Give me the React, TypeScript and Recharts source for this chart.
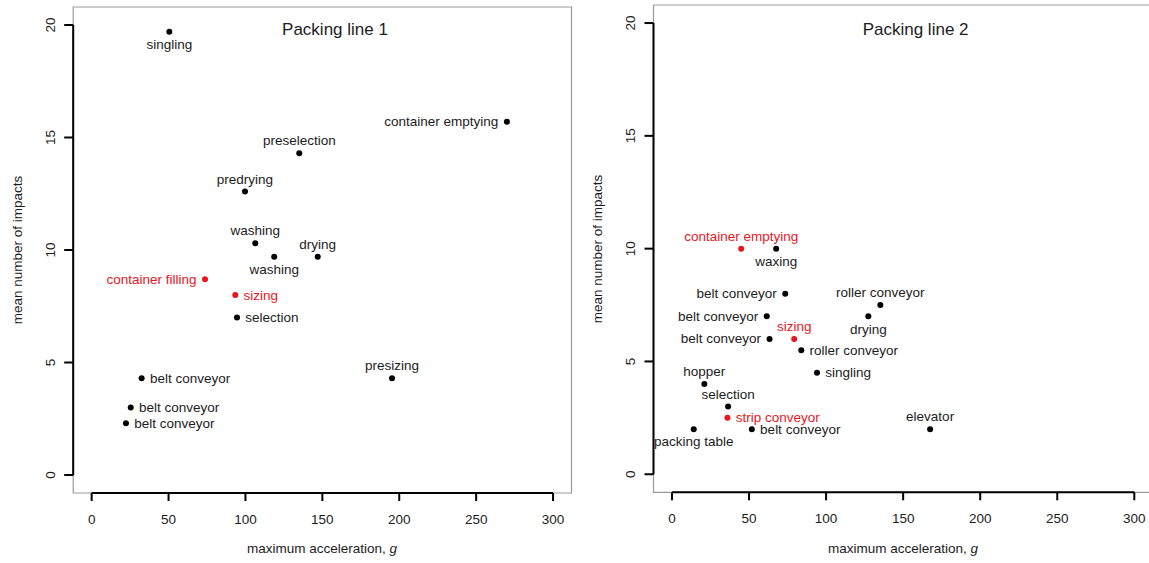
import React from 'react';
import {
  ScatterChart,
  Scatter,
  XAxis,
  YAxis,
  ReferenceLine,
  ReferenceArea,
} from 'recharts';

// Packing line 1
const line1Names = [
  'singling', 'container emptying', 'preselection', 'predrying', 'washing', 'washing', 'drying',
  'container filling', 'sizing', 'selection', 'presizing', 'belt conveyor', 'belt conveyor', 'belt conveyor',
];
const line1Accel = [50.5, 270, 135, 99.7, 106.4, 118.7, 147, 73.7, 93.4, 94.5, 195.3, 32.5, 25.4, 22.3];
const line1Impacts = [19.7, 15.7, 14.3, 12.6, 10.3, 9.7, 9.7, 8.7, 8.0, 7.0, 4.3, 4.3, 3.0, 2.3];
const line1Red = ['container filling', 'sizing'];
const line1Side = ['below', 'left', 'above', 'above', 'above', 'below', 'above', 'left', 'right', 'right', 'above', 'right', 'right', 'right'];

// Packing line 2
const line2Names = [
  'container emptying', 'waxing', 'belt conveyor', 'roller conveyor', 'belt conveyor', 'drying', 'belt conveyor',
  'sizing', 'roller conveyor', 'singling', 'hopper', 'selection', 'strip conveyor', 'packing table', 'belt conveyor', 'elevator',
];
const line2Accel = [44.9, 67.6, 73.5, 135.2, 61.5, 127.4, 63.3, 79.3, 83.9, 94.1, 21, 36.4, 36, 14.1, 51.8, 167.5];
const line2Impacts = [10, 10, 8, 7.5, 7, 7, 6, 6, 5.5, 4.5, 4, 3, 2.5, 2, 2, 2];
const line2Red = ['container emptying', 'sizing', 'strip conveyor'];
const line2Side = ['above', 'below', 'left', 'above', 'left', 'below', 'left', 'above', 'right', 'right', 'above', 'above', 'right', 'below', 'right', 'above'];

const xTicks = [0, 50, 100, 150, 200, 250, 300];
const yTicks = [0, 5, 10, 15, 20];

const FONT = "'Liberation Sans', Arial, sans-serif";
const RED = '#e8161e';
const INK = '#1c1c1c';

function buildRows(names: string[], xs: number[], ys: number[], red: string[], sides: string[]) {
  return names.map((name, i) => ({
    name,
    x: xs[i],
    y: ys[i],
    red: red.includes(name),
    side: sides[i],
  }));
}

function LabelledDot(props: any) {
  const { cx, cy, payload } = props;
  const color = payload.red ? RED : INK;
  let tx = cx;
  let ty = cy;
  let anchor: 'start' | 'middle' | 'end' = 'middle';
  if (payload.side === 'above') ty = cy - 12.3;
  if (payload.side === 'below') ty = cy + 12.7;
  if (payload.side === 'left') {
    tx = cx - 8.5;
    anchor = 'end';
  }
  if (payload.side === 'right') {
    tx = cx + 8.3;
    anchor = 'start';
  }
  return (
    <g>
      <circle cx={cx} cy={cy} r={3} fill={payload.red ? RED : '#000'} />
      <text
        x={tx}
        y={ty}
        textAnchor={anchor}
        dominantBaseline="central"
        fontSize={13.5}
        fontFamily={FONT}
        fill={color}
      >
        {payload.name}
      </text>
    </g>
  );
}

function YTick(props: any) {
  const { x, y, payload } = props;
  return (
    <text
      x={x}
      y={y}
      transform={`rotate(-90 ${x} ${y})`}
      textAnchor="middle"
      fontSize={13.5}
      fontFamily={FONT}
      fill={INK}
    >
      {payload.value}
    </text>
  );
}

function Panel({ rows, width, margin }: { rows: any[]; width: number; margin: any }) {
  return (
    <ScatterChart width={width} height={563} margin={margin}>
      <XAxis
        type="number"
        dataKey="x"
        domain={[-12, 312]}
        ticks={xTicks}
        axisLine={false}
        tickLine={{ stroke: '#000', strokeWidth: 2 }}
        tickSize={8}
        tickMargin={13.5}
        height={60}
        tick={{ fontSize: 13.5, fontFamily: FONT, fill: INK }}
        allowDataOverflow
      />
      <YAxis
        type="number"
        dataKey="y"
        domain={[-0.8, 20.8]}
        ticks={yTicks}
        axisLine={false}
        tickLine={{ stroke: '#000', strokeWidth: 2 }}
        tickSize={9}
        tickMargin={9.2}
        width={60}
        tick={<YTick />}
        allowDataOverflow
      />
      <ReferenceArea
        x1={-12}
        x2={312}
        y1={-0.8}
        y2={20.8}
        fill="none"
        stroke="#9a9a9a"
        strokeWidth={1.2}
        ifOverflow="visible"
      />
      <ReferenceLine
        segment={[{ x: 0, y: -0.8 }, { x: 300, y: -0.8 }]}
        stroke="#000"
        strokeWidth={2}
        ifOverflow="visible"
      />
      <ReferenceLine
        segment={[{ x: -12, y: 0 }, { x: -12, y: 20 }]}
        stroke="#000"
        strokeWidth={2}
        ifOverflow="visible"
      />
      <Scatter data={rows} shape={<LabelledDot />} isAnimationActive={false} />
    </ScatterChart>
  );
}

export default function App() {
  const rows1 = buildRows(line1Names, line1Accel, line1Impacts, line1Red, line1Side);
  const rows2 = buildRows(line2Names, line2Accel, line2Impacts, line2Red, line2Side);

  return (
    <div
      style={{
        position: 'absolute',
        left: 0,
        top: 0,
        width: 1149,
        height: 563,
        overflow: 'hidden',
        background: '#fff',
      }}
    >
      <div style={{ position: 'absolute', left: 0, top: 0 }}>
        <Panel rows={rows1} width={580} margin={{ top: 7, right: 8.5, bottom: 10, left: 13.2 }} />
      </div>
      <div style={{ position: 'absolute', left: 580, top: 0 }}>
        <Panel rows={rows2} width={582} margin={{ top: 5, right: 9.2, bottom: 10.7, left: 13.5 }} />
      </div>
      <svg
        width={1149}
        height={563}
        style={{ position: 'absolute', left: 0, top: 0, pointerEvents: 'none' }}
        fontFamily={FONT}
        fill={INK}
      >
        <text x={335} y={35} textAnchor="middle" fontSize={17}>Packing line 1</text>
        <text x={915.6} y={35} textAnchor="middle" fontSize={17}>Packing line 2</text>
        <text x={322} y={548} textAnchor="middle" dominantBaseline="central" fontSize={13.5}>
          maximum acceleration, <tspan fontStyle="italic">g</tspan>
        </text>
        <text x={903} y={548} textAnchor="middle" dominantBaseline="central" fontSize={13.5}>
          maximum acceleration, <tspan fontStyle="italic">g</tspan>
        </text>
        <text x={17} y={250} transform="rotate(-90 17 250)" textAnchor="middle" dominantBaseline="central" fontSize={13.5}>
          mean number of impacts
        </text>
        <text x={597} y={249} transform="rotate(-90 597 249)" textAnchor="middle" dominantBaseline="central" fontSize={13.5}>
          mean number of impacts
        </text>
      </svg>
    </div>
  );
}
